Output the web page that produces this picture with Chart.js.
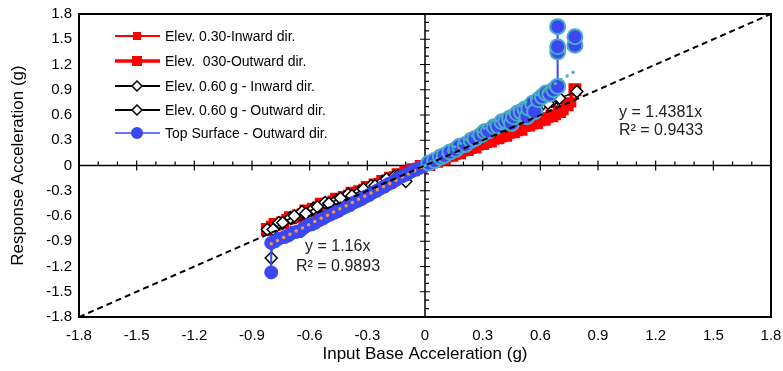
<!DOCTYPE html>
<html>
<head>
<meta charset="utf-8">
<script src="https://cdn.jsdelivr.net/npm/chart.js@4/dist/chart.umd.min.js"></script>
<style>
  html, body { margin: 0; padding: 0; background: #fff; }
  #wrap { width: 783px; height: 371px; }
</style>
</head>
<body>
<div id="wrap"><canvas id="chart" width="783" height="371"></canvas></div>
<script>
// ---- datos ----
const tickVals = [-1.8, -1.5, -1.2, -0.9, -0.6, -0.3, 0, 0.3, 0.6, 0.9, 1.2, 1.5, 1.8];
const tickLabels = ['-1.8', '-1.5', '-1.2', '-0.9', '-0.6', '-0.3', '0', '0.3', '0.6', '0.9', '1.2', '1.5', '1.8'];

const seriesNames = [
  'Elev. 0.30-Inward dir.',
  'Elev.  030-Outward dir.',
  'Elev. 0.60 g - Inward dir.',
  'Elev. 0.60 g - Outward dir.',
  'Top Surface - Outward dir.'
];

// Elev. 0.30 - Inward
const in030X = [-0.80, -0.76, -0.72, -0.68, -0.64, -0.60, -0.56, -0.52, -0.48, -0.44, -0.40, -0.36, -0.32, -0.28, -0.24, -0.20, -0.16, -0.12, -0.08, -0.04, 0.00,
  0.04, 0.08, 0.12, 0.16, 0.20, 0.24, 0.28, 0.32, 0.36, 0.40, 0.44, 0.48, 0.52, 0.56, 0.60, 0.64, 0.68, 0.72, 0.76];
const in030Y = [-0.72, -0.70, -0.64, -0.62, -0.57, -0.55, -0.49, -0.47, -0.42, -0.40, -0.35, -0.33, -0.28, -0.25, -0.21, -0.17, -0.13, -0.10, -0.06, -0.03, 0.00,
  0.03, 0.06, 0.10, 0.13, 0.17, 0.20, 0.24, 0.27, 0.31, 0.34, 0.38, 0.41, 0.46, 0.49, 0.53, 0.57, 0.60, 0.66, 0.75];

// Elev. 030 - Outward
const out030X = [-0.82, -0.78, -0.74, -0.70, -0.66, -0.62, -0.58, -0.54, -0.50, -0.46, -0.42, -0.38, -0.34, -0.30, -0.26, -0.22, -0.18, -0.14, -0.10, -0.06, -0.02,
  0.02, 0.06, 0.10, 0.14, 0.18, 0.22, 0.26, 0.30, 0.34, 0.38, 0.42, 0.46, 0.50, 0.54, 0.58, 0.62, 0.66, 0.70, 0.74, 0.78];
const out030Y = [-0.76, -0.70, -0.68, -0.62, -0.60, -0.54, -0.52, -0.46, -0.45, -0.40, -0.38, -0.33, -0.31, -0.26, -0.23, -0.19, -0.15, -0.11, -0.08, -0.05, -0.01,
  0.01, 0.05, 0.08, 0.12, 0.15, 0.19, 0.22, 0.26, 0.29, 0.33, 0.36, 0.40, 0.43, 0.48, 0.51, 0.55, 0.59, 0.64, 0.72, 0.90];

// Elev. 0.60 g - Inward
const in060X = [-0.82, -0.76, -0.70, -0.64, -0.58, -0.52, -0.46, -0.40, -0.34, -0.28, -0.22, -0.16, -0.10, -0.05, 0.00,
  0.06, 0.12, 0.18, 0.24, 0.30, 0.36, 0.42, 0.48, 0.54, 0.60, 0.66, 0.69];
const in060Y = [-0.76, -0.68, -0.62, -0.55, -0.51, -0.44, -0.41, -0.34, -0.31, -0.24, -0.19, -0.13, -0.19, -0.05, 0.00,
  0.06, 0.14, 0.20, 0.27, 0.34, 0.41, 0.47, 0.55, 0.62, 0.70, 0.76, 0.80];

// Elev. 0.60 g - Outward
const out060X = [-0.80, -0.79, -0.74, -0.68, -0.62, -0.56, -0.50, -0.44, -0.38, -0.32, -0.26, -0.20, -0.14, -0.08, -0.02,
  0.04, 0.10, 0.16, 0.22, 0.28, 0.34, 0.40, 0.46, 0.52, 0.58, 0.64, 0.70, 0.79];
const out060Y = [-1.10, -0.76, -0.68, -0.60, -0.57, -0.49, -0.45, -0.39, -0.36, -0.28, -0.24, -0.16, -0.12, -0.07, -0.02,
  0.05, 0.11, 0.19, 0.26, 0.32, 0.40, 0.46, 0.53, 0.60, 0.68, 0.74, 0.80, 0.88];

// Top Surface - Outward (null = corte de linea)
const topX = [-0.80, -0.80, -0.78, -0.76, -0.73, -0.71, -0.69, -0.67, -0.65, -0.63, -0.61, -0.59, -0.57, -0.55, -0.53, -0.51, -0.49, -0.47, -0.45, -0.43, -0.41,
  -0.39, -0.37, -0.35, -0.33, -0.31, -0.29, -0.27, -0.25, -0.23, -0.21, -0.19, -0.17, -0.15, -0.13, -0.11, -0.09, -0.07, -0.05, -0.03, -0.01,
  0.02, 0.05, 0.08, 0.10, 0.13, 0.16, 0.18, 0.21, 0.24, 0.26, 0.29, 0.31, 0.33, 0.36, 0.38, 0.40, 0.42, 0.44, 0.45, 0.46, 0.48, 0.50,
  0.52, 0.53, 0.54, 0.56, 0.57, 0.59, 0.61, 0.63, 0.65, 0.67, 0.69, 0.69, 0.69, 0.69, 0.74, 0.78, 0.78];
const topY = [-1.27, -0.92, -0.90, -0.87, -0.85, -0.83, -0.80, -0.79, -0.78, -0.74, -0.71, -0.70, -0.68, -0.65, -0.63, -0.60, -0.58, -0.56, -0.54, -0.51, -0.49,
  -0.47, -0.44, -0.42, -0.40, -0.37, -0.35, -0.32, -0.30, -0.27, -0.25, -0.22, -0.20, -0.17, -0.14, -0.12, -0.10, -0.07, -0.05, -0.03, -0.01,
  0.03, 0.06, 0.10, 0.12, 0.16, 0.19, 0.23, 0.25, 0.30, 0.32, 0.36, 0.40, 0.41, 0.46, 0.47, 0.52, 0.53, 0.56, 0.50, 0.58, 0.62, 0.64,
  0.67, 0.58, 0.68, 0.74, 0.64, 0.78, 0.82, 0.86, 0.85, 0.90, 0.94, 1.35, 1.41, 1.65, null, 1.43, 1.53];

// lineas de tendencia y linea 1:1
const trendNegX = [-0.80, 0.00];
const trendNegY = [-0.93, 0.00];
const trendPosX = [0.00, 0.80];
const trendPosY = [0.00, 1.15];
const diagX = [-1.8, 1.8];
const diagY = [-1.8, 1.8];

const trendTexts = [['y = 1.4381x', 'R² = 0.9433'], ['y = 1.16x', 'R² = 0.9893']];

// ---- colores ----
const RED = '#ff0000';
const BLUE = '#3b48f2';
const TEAL = '#4bacc6';
const ORANGE = '#f79646';
const FONT = "'Liberation Sans', Arial, sans-serif";

const zip = (xs, ys) => xs.map((x, i) => ({ x: x, y: ys[i] }));

// Ejes cruzados en el cero con marcas mayores y menores
const crossAxes = {
  id: 'crossAxes',
  beforeDatasetsDraw(chart) {
    const { ctx, chartArea: a, scales: { x, y } } = chart;
    const x0 = x.getPixelForValue(0);
    const y0 = y.getPixelForValue(0);
    ctx.save();
    ctx.strokeStyle = '#000';
    ctx.lineWidth = 1.5;
    ctx.beginPath();
    ctx.moveTo(a.left, y0); ctx.lineTo(a.right, y0);
    ctx.moveTo(x0, a.top); ctx.lineTo(x0, a.bottom);
    ctx.stroke();
    ctx.lineWidth = 1.2;
    ctx.beginPath();
    for (let k = -18; k <= 18; k++) {
      const px = x.getPixelForValue(k / 10);
      const py = y.getPixelForValue(k / 10);
      if (k % 3 === 0) {
        ctx.moveTo(px, y0 - 5); ctx.lineTo(px, y0 + 5);
        ctx.moveTo(x0 - 5, py); ctx.lineTo(x0 + 5, py);
      } else {
        ctx.moveTo(px, y0); ctx.lineTo(px, y0 - 4);
        ctx.moveTo(x0, py); ctx.lineTo(x0 + 4, py);
      }
    }
    ctx.stroke();
    ctx.restore();
  },
  afterDraw(chart) {
    const { ctx, chartArea: a } = chart;
    ctx.save();
    // marco del area
    ctx.strokeStyle = '#000';
    ctx.lineWidth = 2;
    ctx.strokeRect(a.left, a.top, a.right - a.left, a.bottom - a.top);

    // titulos de ejes
    ctx.fillStyle = '#000';
    ctx.font = '17px ' + FONT;
    ctx.textAlign = 'center';
    ctx.textBaseline = 'middle';
    ctx.fillText('Input Base Acceleration (g)', (a.left + a.right) / 2, 354);
    ctx.translate(18, (a.top + a.bottom) / 2);
    ctx.rotate(-Math.PI / 2);
    ctx.fillText('Response Acceleration (g)', 0, 0);
    ctx.restore();

    // ecuaciones de tendencia
    ctx.save();
    ctx.fillStyle = '#222';
    ctx.font = '16px ' + FONT;
    ctx.textBaseline = 'middle';
    ctx.fillText(trendTexts[0][0], 619, 113);
    ctx.fillText(trendTexts[0][1], 619, 131);
    ctx.fillText(trendTexts[1][0], 305, 247);
    ctx.fillText(trendTexts[1][1], 296, 267);
    ctx.restore();

    // leyenda
    const styles = [
      { color: RED, lw: 2, marker: 'sq', size: 8 },
      { color: RED, lw: 3.5, marker: 'sq', size: 10 },
      { color: '#000', lw: 2, marker: 'dia', size: 5 },
      { color: '#000', lw: 2, marker: 'dia', size: 5 },
      { color: BLUE, lw: 1.5, marker: 'dot', size: 6 }
    ];
    const rowsY = [36, 61, 86, 110, 133];
    ctx.save();
    ctx.font = '14px ' + FONT;
    ctx.textBaseline = 'middle';
    seriesNames.forEach((name, i) => {
      const s = styles[i];
      const yy = rowsY[i];
      ctx.strokeStyle = s.color;
      ctx.lineWidth = s.lw;
      ctx.beginPath();
      ctx.moveTo(115, yy); ctx.lineTo(160, yy);
      ctx.stroke();
      const cx = 137;
      if (s.marker === 'sq') {
        ctx.fillStyle = s.color;
        ctx.fillRect(cx - s.size / 2, yy - s.size / 2, s.size, s.size);
      } else if (s.marker === 'dia') {
        ctx.fillStyle = '#fff';
        ctx.lineWidth = 1.5;
        ctx.beginPath();
        ctx.moveTo(cx, yy - s.size); ctx.lineTo(cx + s.size, yy);
        ctx.lineTo(cx, yy + s.size); ctx.lineTo(cx - s.size, yy);
        ctx.closePath();
        ctx.fill(); ctx.stroke();
      } else {
        ctx.fillStyle = s.color;
        ctx.beginPath();
        ctx.arc(cx, yy, s.size, 0, Math.PI * 2);
        ctx.fill();
      }
      ctx.fillStyle = '#000';
      ctx.fillText(name, 165, yy + 1);
    });
    ctx.restore();
  }
};

const axisCommon = {
  type: 'linear',
  min: -1.8,
  max: 1.8,
  afterBuildTicks: s => { s.ticks = tickVals.map(v => ({ value: v })); },
  grid: { display: false, drawTicks: false },
  border: { display: false }
};

new Chart(document.getElementById('chart'), {
  type: 'scatter',
  data: {
    datasets: [
      { label: 'diag', data: zip(diagX, diagY), showLine: true, borderColor: '#000', borderWidth: 2,
        borderDash: [6, 4], pointRadius: 0, order: 0 },
      { label: 'trendNeg', data: zip(trendNegX, trendNegY), showLine: true, borderColor: ORANGE, borderWidth: 3.5,
        borderDash: [0, 7], borderCapStyle: 'round', pointRadius: 0, order: 1 },
      { label: 'trendPos', data: zip(trendPosX, trendPosY), showLine: true, borderColor: TEAL, borderWidth: 3.5,
        borderDash: [0, 7], borderCapStyle: 'round', pointRadius: 0, order: 1 },
      { label: seriesNames[4], data: zip(topX, topY), showLine: true, spanGaps: false, borderColor: BLUE, borderWidth: 2,
        pointStyle: 'circle',
        pointRadius: c => (c.raw && c.raw.x > 0 ? 7.5 : 6.5),
        pointBackgroundColor: BLUE,
        pointBorderColor: c => (c.raw && c.raw.x > 0 ? TEAL : BLUE),
        pointBorderWidth: c => (c.raw && c.raw.x > 0 ? 2 : 1),
        order: 2 },
      { label: seriesNames[3], data: zip(out060X, out060Y), showLine: true, borderColor: '#000', borderWidth: 1.5,
        pointStyle: 'rectRot', pointRadius: 6, pointBackgroundColor: '#fff', pointBorderColor: '#000', pointBorderWidth: 1.5, order: 3 },
      { label: seriesNames[2], data: zip(in060X, in060Y), showLine: true, borderColor: '#000', borderWidth: 1.5,
        pointStyle: 'rectRot', pointRadius: 6, pointBackgroundColor: '#fff', pointBorderColor: '#000', pointBorderWidth: 1.5, order: 4 },
      { label: seriesNames[1], data: zip(out030X, out030Y), showLine: true, borderColor: RED, borderWidth: 3,
        pointStyle: 'rect', pointRadius: 7, pointBackgroundColor: RED, pointBorderColor: RED, order: 5 },
      { label: seriesNames[0], data: zip(in030X, in030Y), showLine: true, borderColor: RED, borderWidth: 2,
        pointStyle: 'rect', pointRadius: 6, pointBackgroundColor: RED, pointBorderColor: RED, order: 6 }
    ]
  },
  options: {
    responsive: false,
    animation: false,
    layout: { padding: { top: 14, right: 12, bottom: 0, left: 0 } },
    plugins: {
      legend: { display: false },
      tooltip: { enabled: false }
    },
    scales: {
      x: Object.assign({}, axisCommon, {
        position: 'bottom',
        ticks: { callback: (v, i) => tickLabels[i], font: { family: FONT, size: 15 }, color: '#000',
          padding: 10, maxRotation: 0, autoSkip: false },
        afterFit: s => { s.height = 54; s.paddingLeft = 0; s.paddingRight = 0; }
      }),
      y: Object.assign({}, axisCommon, {
        position: 'left',
        ticks: { callback: (v, i) => tickLabels[i], font: { family: FONT, size: 15 }, color: '#000',
          padding: 7, autoSkip: false },
        afterFit: s => { s.width = 79; s.paddingTop = 0; s.paddingBottom = 0; }
      })
    }
  },
  plugins: [crossAxes]
});
</script>
</body>
</html>
